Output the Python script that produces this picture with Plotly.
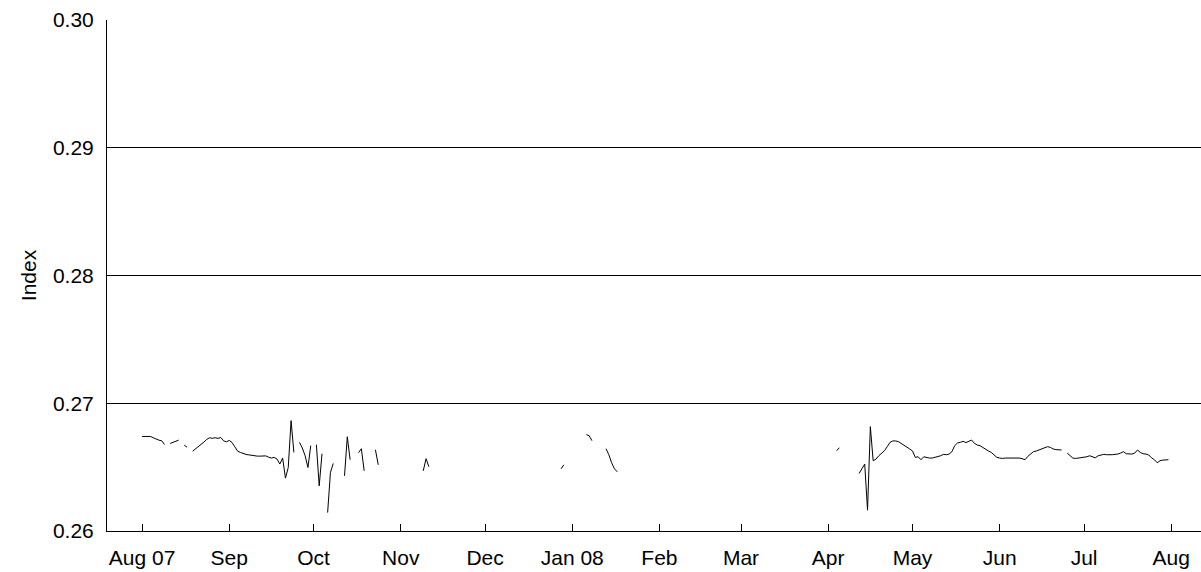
import pandas as pd
import plotly.graph_objects as go

# Daily index values, grouped by contiguous runs of data (gaps between runs are missing days)
seg_a_start = "2007-08-01"
seg_a = [0.26740, 0.26740, 0.26740, 0.26740, 0.26730, 0.26719, 0.26711, 0.26706, 0.26677]
seg_b_start = "2007-08-11"
seg_b = [0.26685, 0.26693, 0.26704, 0.26711]
seg_c_start = "2007-08-16"
seg_c = [0.26672, 0.26656]
seg_d_start = "2007-08-19"
seg_d = [0.26625, 0.26641, 0.26659, 0.26677, 0.26696, 0.26717, 0.26730, 0.26725, 0.26730, 0.26725,
         0.26732, 0.26706, 0.26698, 0.26709, 0.26693, 0.26659, 0.26625, 0.26615, 0.26604, 0.26599,
         0.26596, 0.26591, 0.26586, 0.26586, 0.26586, 0.26586, 0.26588, 0.26578, 0.26571, 0.26576,
         0.26563, 0.26524, 0.26571, 0.26414, 0.26497, 0.26864, 0.26615]
seg_e_start = "2007-09-26"
seg_e = [0.26694, 0.26650, 0.26589, 0.26497, 0.26668]
seg_f_start = "2007-10-02"
seg_f = [0.26676, 0.26353, 0.26605]
seg_g_start = "2007-10-06"
seg_g = [0.26144, 0.26458, 0.26529]
seg_h_start = "2007-10-12"
seg_h = [0.26432, 0.26738, 0.26558]
seg_i_start = "2007-10-17"
seg_i = [0.26613, 0.26644, 0.26471]
seg_j_start = "2007-10-23"
seg_j = [0.26636, 0.26518]
seg_k_start = "2007-11-09"
seg_k = [0.26471, 0.26566, 0.26503]
seg_l_start = "2007-12-28"
seg_l = [0.26487, 0.26518]
seg_m_start = "2008-01-06"
seg_m = [0.26754, 0.26746, 0.26707]
seg_n_start = "2008-01-13"
seg_n = [0.26644, 0.26597, 0.26534, 0.26487, 0.26463]
seg_o_start = "2008-04-04"
seg_o = [0.26628, 0.26652]
seg_p_start = "2008-04-12"
seg_p = [0.26450, 0.26489, 0.26524, 0.26163, 0.26817, 0.26550, 0.26563, 0.26589, 0.26607, 0.26628,
         0.26660, 0.26694, 0.26705, 0.26705, 0.26699, 0.26686, 0.26668, 0.26655, 0.26642, 0.26626,
         0.26576, 0.26581, 0.26558, 0.26581, 0.26574, 0.26571, 0.26571, 0.26576, 0.26584, 0.26589,
         0.26600, 0.26597, 0.26602, 0.26621, 0.26668, 0.26689, 0.26694, 0.26702, 0.26692, 0.26702,
         0.26712, 0.26686, 0.26673, 0.26668, 0.26652, 0.26639, 0.26626, 0.26615, 0.26597, 0.26576,
         0.26571, 0.26568, 0.26571, 0.26571, 0.26571, 0.26573, 0.26568, 0.26571, 0.26566, 0.26558,
         0.26584, 0.26605, 0.26621, 0.26626, 0.26634, 0.26639, 0.26647, 0.26660, 0.26655, 0.26642,
         0.26637, 0.26634, 0.26634]
seg_q_start = "2008-06-25"
seg_q = [0.26610, 0.26589, 0.26571, 0.26568, 0.26571, 0.26573, 0.26579, 0.26581, 0.26589, 0.26581,
         0.26573, 0.26589, 0.26595, 0.26600, 0.26597, 0.26595, 0.26597, 0.26600, 0.26602, 0.26610,
         0.26621, 0.26605, 0.26602, 0.26602, 0.26610, 0.26634, 0.26615, 0.26605, 0.26602, 0.26595,
         0.26573, 0.26558, 0.26534, 0.26550, 0.26555, 0.26555, 0.26558]

tick_dates = ["2007-08-01", "2007-09-01", "2007-10-01", "2007-11-01", "2007-12-01", "2008-01-01",
              "2008-02-01", "2008-03-01", "2008-04-01", "2008-05-01", "2008-06-01", "2008-07-01",
              "2008-08-01"]
tick_labels = ["Aug 07", "Sep", "Oct", "Nov", "Dec", "Jan 08", "Feb", "Mar", "Apr", "May",
               "Jun", "Jul", "Aug"]
y_ticks = [0.26, 0.27, 0.28, 0.29, 0.30]

segments = [(seg_a_start, seg_a), (seg_b_start, seg_b), (seg_c_start, seg_c), (seg_d_start, seg_d),
            (seg_e_start, seg_e), (seg_f_start, seg_f), (seg_g_start, seg_g), (seg_h_start, seg_h),
            (seg_i_start, seg_i), (seg_j_start, seg_j), (seg_k_start, seg_k), (seg_l_start, seg_l),
            (seg_m_start, seg_m), (seg_n_start, seg_n), (seg_o_start, seg_o), (seg_p_start, seg_p),
            (seg_q_start, seg_q)]

xs, ys = [], []
for start, vals in segments:
    days = pd.date_range(start, periods=len(vals), freq="D")
    xs.extend(list(days))
    ys.extend(vals)
    xs.append(None)
    ys.append(None)

FONT = "Liberation Sans, Arial, sans-serif"

fig = go.Figure()
fig.add_trace(go.Scatter(x=xs, y=ys, mode="lines", line=dict(color="black", width=1),
                         connectgaps=False, hoverinfo="skip", showlegend=False))

fig.update_layout(
    width=1201, height=572,
    margin=dict(l=107, r=0, t=20, b=41),
    paper_bgcolor="white", plot_bgcolor="white",
    font=dict(family=FONT, size=21, color="black"),
    xaxis=dict(
        range=["2007-07-19 13:00", "2008-08-11 14:00"],
        tickvals=tick_dates, ticktext=tick_labels,
        ticks="inside", ticklen=7, tickcolor="black", tickwidth=1,
        showline=True, linecolor="black", linewidth=1,
        showgrid=False, zeroline=False,
        tickfont=dict(size=21), ticklabelstandoff=8,
    ),
    yaxis=dict(
        range=[0.26, 0.30],
        tickvals=y_ticks, tickformat=".2f",
        ticks="", showline=True, linecolor="black", linewidth=1,
        showgrid=True, gridcolor="black", gridwidth=1, zeroline=False,
        tickfont=dict(size=21), ticklabelstandoff=8,
        title=dict(text="Index", font=dict(size=21), standoff=10),
    ),
)

fig.write_html("out.html")
